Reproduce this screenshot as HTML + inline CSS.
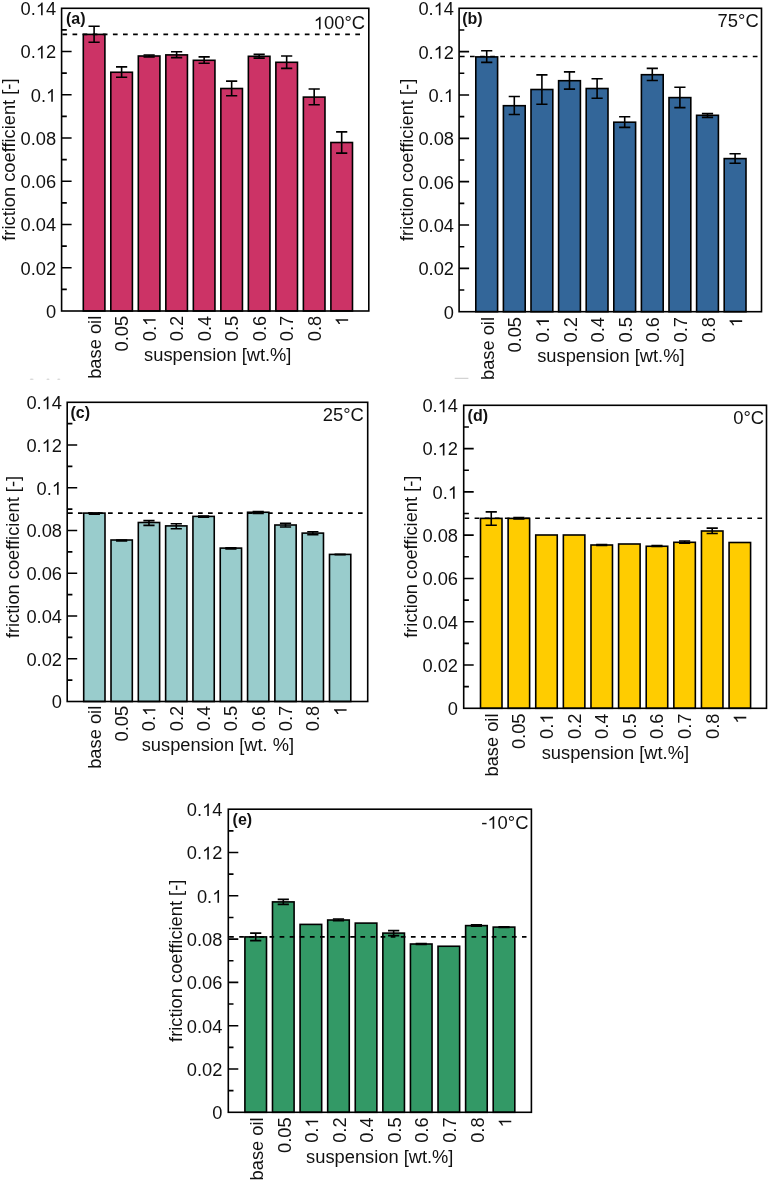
<!DOCTYPE html>
<html><head><meta charset="utf-8"><title>Friction coefficient</title>
<style>
html,body{margin:0;padding:0;background:#fff;}
body{width:768px;height:1181px;overflow:hidden;}
svg{display:block;will-change:transform;}
text{font-family:"Liberation Sans", sans-serif;fill:#111;}
</style></head>
<body>
<svg width="768" height="1181" viewBox="0 0 768 1181">

<rect x="83.3" y="34.4" width="21.6" height="276.6" fill="#CC3366" stroke="#000" stroke-width="1.6"/>
<rect x="110.81" y="72.25" width="21.6" height="238.75" fill="#CC3366" stroke="#000" stroke-width="1.6"/>
<rect x="138.32" y="56" width="21.6" height="255" fill="#CC3366" stroke="#000" stroke-width="1.6"/>
<rect x="165.83" y="54.9" width="21.6" height="256.1" fill="#CC3366" stroke="#000" stroke-width="1.6"/>
<rect x="193.34" y="60.3" width="21.6" height="250.7" fill="#CC3366" stroke="#000" stroke-width="1.6"/>
<rect x="220.85" y="88.5" width="21.6" height="222.5" fill="#CC3366" stroke="#000" stroke-width="1.6"/>
<rect x="248.36" y="56.3" width="21.6" height="254.7" fill="#CC3366" stroke="#000" stroke-width="1.6"/>
<rect x="275.87" y="62.3" width="21.6" height="248.7" fill="#CC3366" stroke="#000" stroke-width="1.6"/>
<rect x="303.38" y="97.1" width="21.6" height="213.9" fill="#CC3366" stroke="#000" stroke-width="1.6"/>
<rect x="330.89" y="142.5" width="21.6" height="168.5" fill="#CC3366" stroke="#000" stroke-width="1.6"/>
<path d="M94.1 26.3V42.2M88.5 26.3H99.7M88.5 42.2H99.7" stroke="#000" stroke-width="1.6" fill="none"/>
<path d="M121.61 66.9V77.25M116.01 66.9H127.21M116.01 77.25H127.21" stroke="#000" stroke-width="1.6" fill="none"/>
<path d="M149.12 55V57M143.52 55H154.72M143.52 57H154.72" stroke="#000" stroke-width="1.6" fill="none"/>
<path d="M176.63 51.7V57.6M171.03 51.7H182.23M171.03 57.6H182.23" stroke="#000" stroke-width="1.6" fill="none"/>
<path d="M204.14 56.9V63.2M198.54 56.9H209.74M198.54 63.2H209.74" stroke="#000" stroke-width="1.6" fill="none"/>
<path d="M231.65 81.1V95.7M226.05 81.1H237.25M226.05 95.7H237.25" stroke="#000" stroke-width="1.6" fill="none"/>
<path d="M259.16 54.4V58.1M253.56 54.4H264.76M253.56 58.1H264.76" stroke="#000" stroke-width="1.6" fill="none"/>
<path d="M286.67 56V68.4M281.07 56H292.27M281.07 68.4H292.27" stroke="#000" stroke-width="1.6" fill="none"/>
<path d="M314.18 89V104.75M308.58 89H319.78M308.58 104.75H319.78" stroke="#000" stroke-width="1.6" fill="none"/>
<path d="M341.69 131.9V153.1M336.09 131.9H347.29M336.09 153.1H347.29" stroke="#000" stroke-width="1.6" fill="none"/>
<path d="M62.4 34.35H360.3" stroke="#000" stroke-width="1.6" stroke-dasharray="4.7 5.4"/>
<rect x="61.6" y="8.3" width="307.2" height="302.7" fill="none" stroke="#000" stroke-width="1.6"/>
<path d="M61.6 289.38h5.2M61.6 267.76h10M61.6 246.14h5.2M61.6 224.51h10M61.6 202.89h5.2M61.6 181.27h10M61.6 159.65h5.2M61.6 138.03h10M61.6 116.41h5.2M61.6 94.79h10M61.6 73.16h5.2M61.6 51.54h10M61.6 29.92h5.2" stroke="#000" stroke-width="1.6"/>
<text x="56.2" y="317.9" text-anchor="end" font-size="18.3">0</text>
<text x="56.2" y="274.66" text-anchor="end" font-size="18.3">0.02</text>
<text x="56.2" y="231.41" text-anchor="end" font-size="18.3">0.04</text>
<text x="56.2" y="188.17" text-anchor="end" font-size="18.3">0.06</text>
<text x="56.2" y="144.93" text-anchor="end" font-size="18.3">0.08</text>
<text x="30.76" y="101.69" font-size="18.3" style="font-kerning:none">0. </text>
<path transform="translate(46.02 101.69) scale(0.00894 -0.00894)" d="M763 0H583V1100C540 1060 483 1020 413 981C342 941 279 911 223 891V1058C324 1103 412 1158 487 1223C562 1287 615 1349 646 1409H763Z" fill="#111"/>
<text x="20.58" y="58.44" font-size="18.3" style="font-kerning:none">0. 2</text>
<path transform="translate(35.84 58.44) scale(0.00894 -0.00894)" d="M763 0H583V1100C540 1060 483 1020 413 981C342 941 279 911 223 891V1058C324 1103 412 1158 487 1223C562 1287 615 1349 646 1409H763Z" fill="#111"/>
<text x="20.58" y="15.2" font-size="18.3" style="font-kerning:none">0. 4</text>
<path transform="translate(35.84 15.2) scale(0.00894 -0.00894)" d="M763 0H583V1100C540 1060 483 1020 413 981C342 941 279 911 223 891V1058C324 1103 412 1158 487 1223C562 1287 615 1349 646 1409H763Z" fill="#111"/>
<text transform="translate(100.55 315.8) rotate(-90)" x="0" y="0" text-anchor="end" font-size="18.3">base oil</text>
<text transform="translate(128.06 315.8) rotate(-90)" x="0" y="0" text-anchor="end" font-size="18.3">0.05</text>
<text transform="translate(155.57 315.8) rotate(-90)" x="-25.44" y="0" font-size="18.3" style="font-kerning:none">0. </text>
<path transform="translate(155.57 315.8) rotate(-90) translate(-10.18 0) scale(0.00894 -0.00894)" d="M763 0H583V1100C540 1060 483 1020 413 981C342 941 279 911 223 891V1058C324 1103 412 1158 487 1223C562 1287 615 1349 646 1409H763Z" fill="#111"/>
<text transform="translate(183.08 315.8) rotate(-90)" x="0" y="0" text-anchor="end" font-size="18.3">0.2</text>
<text transform="translate(210.59 315.8) rotate(-90)" x="0" y="0" text-anchor="end" font-size="18.3">0.4</text>
<text transform="translate(238.1 315.8) rotate(-90)" x="0" y="0" text-anchor="end" font-size="18.3">0.5</text>
<text transform="translate(265.61 315.8) rotate(-90)" x="0" y="0" text-anchor="end" font-size="18.3">0.6</text>
<text transform="translate(293.12 315.8) rotate(-90)" x="0" y="0" text-anchor="end" font-size="18.3">0.7</text>
<text transform="translate(320.63 315.8) rotate(-90)" x="0" y="0" text-anchor="end" font-size="18.3">0.8</text>
<text transform="translate(348.14 315.8) rotate(-90)" x="-10.18" y="0" font-size="18.3" style="font-kerning:none"> </text>
<path transform="translate(348.14 315.8) rotate(-90) translate(-10.18 0) scale(0.00894 -0.00894)" d="M763 0H583V1100C540 1060 483 1020 413 981C342 941 279 911 223 891V1058C324 1103 412 1158 487 1223C562 1287 615 1349 646 1409H763Z" fill="#111"/>
<text x="66" y="24.4" font-size="16" font-weight="bold">(a)</text>
<text x="313.75" y="29.3" font-size="18.4" style="font-kerning:none"> 00°C</text>
<path transform="translate(313.75 29.3) scale(0.00898 -0.00898)" d="M763 0H583V1100C540 1060 483 1020 413 981C342 941 279 911 223 891V1058C324 1103 412 1158 487 1223C562 1287 615 1349 646 1409H763Z" fill="#111"/>
<text transform="translate(14.7 159.6) rotate(-90)" text-anchor="middle" font-size="18.3">friction coefficient [-]</text>
<text x="144.1" y="361.3" font-size="18.3">suspension [wt.%]</text>
<rect x="475.8" y="56.9" width="21.8" height="254.8" fill="#336699" stroke="#000" stroke-width="1.6"/>
<rect x="503.4" y="105.7" width="21.8" height="206" fill="#336699" stroke="#000" stroke-width="1.6"/>
<rect x="531" y="89.5" width="21.8" height="222.2" fill="#336699" stroke="#000" stroke-width="1.6"/>
<rect x="558.6" y="80.7" width="21.8" height="231" fill="#336699" stroke="#000" stroke-width="1.6"/>
<rect x="586.2" y="88.5" width="21.8" height="223.2" fill="#336699" stroke="#000" stroke-width="1.6"/>
<rect x="613.8" y="122.2" width="21.8" height="189.5" fill="#336699" stroke="#000" stroke-width="1.6"/>
<rect x="641.4" y="74.7" width="21.8" height="237" fill="#336699" stroke="#000" stroke-width="1.6"/>
<rect x="669" y="97.6" width="21.8" height="214.1" fill="#336699" stroke="#000" stroke-width="1.6"/>
<rect x="696.6" y="115.3" width="21.8" height="196.4" fill="#336699" stroke="#000" stroke-width="1.6"/>
<rect x="724.2" y="158.6" width="21.8" height="153.1" fill="#336699" stroke="#000" stroke-width="1.6"/>
<path d="M486.7 50.7V62.4M481.1 50.7H492.3M481.1 62.4H492.3" stroke="#000" stroke-width="1.6" fill="none"/>
<path d="M514.3 96.55V114.5M508.7 96.55H519.9M508.7 114.5H519.9" stroke="#000" stroke-width="1.6" fill="none"/>
<path d="M541.9 74.9V104.2M536.3 74.9H547.5M536.3 104.2H547.5" stroke="#000" stroke-width="1.6" fill="none"/>
<path d="M569.5 71.9V89.1M563.9 71.9H575.1M563.9 89.1H575.1" stroke="#000" stroke-width="1.6" fill="none"/>
<path d="M597.1 78.8V98.3M591.5 78.8H602.7M591.5 98.3H602.7" stroke="#000" stroke-width="1.6" fill="none"/>
<path d="M624.7 116.8V127.4M619.1 116.8H630.3M619.1 127.4H630.3" stroke="#000" stroke-width="1.6" fill="none"/>
<path d="M652.3 68.4V80.5M646.7 68.4H657.9M646.7 80.5H657.9" stroke="#000" stroke-width="1.6" fill="none"/>
<path d="M679.9 87.2V107.6M674.3 87.2H685.5M674.3 107.6H685.5" stroke="#000" stroke-width="1.6" fill="none"/>
<path d="M707.5 113.6V117.4M701.9 113.6H713.1M701.9 117.4H713.1" stroke="#000" stroke-width="1.6" fill="none"/>
<path d="M735.1 153.8V163.2M729.5 153.8H740.7M729.5 163.2H740.7" stroke="#000" stroke-width="1.6" fill="none"/>
<path d="M459.9 56.5H757.8" stroke="#000" stroke-width="1.6" stroke-dasharray="4.7 5.4"/>
<rect x="459.1" y="8.3" width="302.4" height="303.4" fill="none" stroke="#000" stroke-width="1.6"/>
<path d="M459.1 290.03h5.2M459.1 268.36h10M459.1 246.69h5.2M459.1 225.01h10M459.1 203.34h5.2M459.1 181.67h10M459.1 160h5.2M459.1 138.33h10M459.1 116.66h5.2M459.1 94.99h10M459.1 73.31h5.2M459.1 51.64h10M459.1 29.97h5.2" stroke="#000" stroke-width="1.6"/>
<text x="454" y="318.6" text-anchor="end" font-size="18.3">0</text>
<text x="454" y="275.26" text-anchor="end" font-size="18.3">0.02</text>
<text x="454" y="231.91" text-anchor="end" font-size="18.3">0.04</text>
<text x="454" y="188.57" text-anchor="end" font-size="18.3">0.06</text>
<text x="454" y="145.23" text-anchor="end" font-size="18.3">0.08</text>
<text x="428.56" y="101.89" font-size="18.3" style="font-kerning:none">0. </text>
<path transform="translate(443.82 101.89) scale(0.00894 -0.00894)" d="M763 0H583V1100C540 1060 483 1020 413 981C342 941 279 911 223 891V1058C324 1103 412 1158 487 1223C562 1287 615 1349 646 1409H763Z" fill="#111"/>
<text x="418.38" y="58.54" font-size="18.3" style="font-kerning:none">0. 2</text>
<path transform="translate(433.64 58.54) scale(0.00894 -0.00894)" d="M763 0H583V1100C540 1060 483 1020 413 981C342 941 279 911 223 891V1058C324 1103 412 1158 487 1223C562 1287 615 1349 646 1409H763Z" fill="#111"/>
<text x="418.38" y="15.2" font-size="18.3" style="font-kerning:none">0. 4</text>
<path transform="translate(433.64 15.2) scale(0.00894 -0.00894)" d="M763 0H583V1100C540 1060 483 1020 413 981C342 941 279 911 223 891V1058C324 1103 412 1158 487 1223C562 1287 615 1349 646 1409H763Z" fill="#111"/>
<text transform="translate(493.75 317) rotate(-90)" x="0" y="0" text-anchor="end" font-size="18.3">base oil</text>
<text transform="translate(521.35 317) rotate(-90)" x="0" y="0" text-anchor="end" font-size="18.3">0.05</text>
<text transform="translate(548.95 317) rotate(-90)" x="-25.44" y="0" font-size="18.3" style="font-kerning:none">0. </text>
<path transform="translate(548.95 317) rotate(-90) translate(-10.18 0) scale(0.00894 -0.00894)" d="M763 0H583V1100C540 1060 483 1020 413 981C342 941 279 911 223 891V1058C324 1103 412 1158 487 1223C562 1287 615 1349 646 1409H763Z" fill="#111"/>
<text transform="translate(576.55 317) rotate(-90)" x="0" y="0" text-anchor="end" font-size="18.3">0.2</text>
<text transform="translate(604.15 317) rotate(-90)" x="0" y="0" text-anchor="end" font-size="18.3">0.4</text>
<text transform="translate(631.75 317) rotate(-90)" x="0" y="0" text-anchor="end" font-size="18.3">0.5</text>
<text transform="translate(659.35 317) rotate(-90)" x="0" y="0" text-anchor="end" font-size="18.3">0.6</text>
<text transform="translate(686.95 317) rotate(-90)" x="0" y="0" text-anchor="end" font-size="18.3">0.7</text>
<text transform="translate(714.55 317) rotate(-90)" x="0" y="0" text-anchor="end" font-size="18.3">0.8</text>
<text transform="translate(742.15 317) rotate(-90)" x="-10.18" y="0" font-size="18.3" style="font-kerning:none"> </text>
<path transform="translate(742.15 317) rotate(-90) translate(-10.18 0) scale(0.00894 -0.00894)" d="M763 0H583V1100C540 1060 483 1020 413 981C342 941 279 911 223 891V1058C324 1103 412 1158 487 1223C562 1287 615 1349 646 1409H763Z" fill="#111"/>
<text x="462.2" y="24" font-size="16" font-weight="bold">(b)</text>
<text x="758.7" y="26.7" text-anchor="end" font-size="18.4">75°C</text>
<text transform="translate(412.6 159.9) rotate(-90)" text-anchor="middle" font-size="18.3">friction coefficient [-]</text>
<text x="537.2" y="361.8" font-size="18.3">suspension [wt.%]</text>
<rect x="83.7" y="513.1" width="21.3" height="188.4" fill="#99CCCC" stroke="#000" stroke-width="1.6"/>
<rect x="111.01" y="540" width="21.3" height="161.5" fill="#99CCCC" stroke="#000" stroke-width="1.6"/>
<rect x="138.32" y="522.5" width="21.3" height="179" fill="#99CCCC" stroke="#000" stroke-width="1.6"/>
<rect x="165.63" y="525.9" width="21.3" height="175.6" fill="#99CCCC" stroke="#000" stroke-width="1.6"/>
<rect x="192.94" y="516.4" width="21.3" height="185.1" fill="#99CCCC" stroke="#000" stroke-width="1.6"/>
<rect x="220.25" y="548.1" width="21.3" height="153.4" fill="#99CCCC" stroke="#000" stroke-width="1.6"/>
<rect x="247.56" y="512.25" width="21.3" height="189.25" fill="#99CCCC" stroke="#000" stroke-width="1.6"/>
<rect x="274.87" y="525" width="21.3" height="176.5" fill="#99CCCC" stroke="#000" stroke-width="1.6"/>
<rect x="302.18" y="533.1" width="21.3" height="168.4" fill="#99CCCC" stroke="#000" stroke-width="1.6"/>
<rect x="329.49" y="554.4" width="21.3" height="147.1" fill="#99CCCC" stroke="#000" stroke-width="1.6"/>
<path d="M94.35 513V514.2M88.75 513H99.95M88.75 514.2H99.95" stroke="#000" stroke-width="1.6" fill="none"/>
<path d="M121.66 540V541M116.06 540H127.26M116.06 541H127.26" stroke="#000" stroke-width="1.6" fill="none"/>
<path d="M148.97 520.6V525.4M143.37 520.6H154.57M143.37 525.4H154.57" stroke="#000" stroke-width="1.6" fill="none"/>
<path d="M176.28 523.75V528.75M170.68 523.75H181.88M170.68 528.75H181.88" stroke="#000" stroke-width="1.6" fill="none"/>
<path d="M203.59 516V517.2M197.99 516H209.19M197.99 517.2H209.19" stroke="#000" stroke-width="1.6" fill="none"/>
<path d="M230.9 547.9V548.9M225.3 547.9H236.5M225.3 548.9H236.5" stroke="#000" stroke-width="1.6" fill="none"/>
<path d="M258.21 511.5V513.4M252.61 511.5H263.81M252.61 513.4H263.81" stroke="#000" stroke-width="1.6" fill="none"/>
<path d="M285.52 523.3V527M279.92 523.3H291.12M279.92 527H291.12" stroke="#000" stroke-width="1.6" fill="none"/>
<path d="M312.83 531.8V534.8M307.23 531.8H318.43M307.23 534.8H318.43" stroke="#000" stroke-width="1.6" fill="none"/>
<path d="M340.14 554.2V554.6M334.54 554.2H345.74M334.54 554.6H345.74" stroke="#000" stroke-width="1.6" fill="none"/>
<path d="M68 513.1H362.6" stroke="#000" stroke-width="1.6" stroke-dasharray="4.7 5.3"/>
<rect x="67.2" y="402.3" width="300.5" height="299.2" fill="none" stroke="#000" stroke-width="1.6"/>
<path d="M67.2 680.13h5.2M67.2 658.76h10M67.2 637.39h5.2M67.2 616.01h10M67.2 594.64h5.2M67.2 573.27h10M67.2 551.9h5.2M67.2 530.53h10M67.2 509.16h5.2M67.2 487.79h10M67.2 466.41h5.2M67.2 445.04h10M67.2 423.67h5.2" stroke="#000" stroke-width="1.6"/>
<text x="62" y="708.4" text-anchor="end" font-size="18.3">0</text>
<text x="62" y="665.66" text-anchor="end" font-size="18.3">0.02</text>
<text x="62" y="622.91" text-anchor="end" font-size="18.3">0.04</text>
<text x="62" y="580.17" text-anchor="end" font-size="18.3">0.06</text>
<text x="62" y="537.43" text-anchor="end" font-size="18.3">0.08</text>
<text x="36.56" y="494.69" font-size="18.3" style="font-kerning:none">0. </text>
<path transform="translate(51.82 494.69) scale(0.00894 -0.00894)" d="M763 0H583V1100C540 1060 483 1020 413 981C342 941 279 911 223 891V1058C324 1103 412 1158 487 1223C562 1287 615 1349 646 1409H763Z" fill="#111"/>
<text x="26.38" y="451.94" font-size="18.3" style="font-kerning:none">0. 2</text>
<path transform="translate(41.64 451.94) scale(0.00894 -0.00894)" d="M763 0H583V1100C540 1060 483 1020 413 981C342 941 279 911 223 891V1058C324 1103 412 1158 487 1223C562 1287 615 1349 646 1409H763Z" fill="#111"/>
<text x="26.38" y="409.2" font-size="18.3" style="font-kerning:none">0. 4</text>
<path transform="translate(41.64 409.2) scale(0.00894 -0.00894)" d="M763 0H583V1100C540 1060 483 1020 413 981C342 941 279 911 223 891V1058C324 1103 412 1158 487 1223C562 1287 615 1349 646 1409H763Z" fill="#111"/>
<text transform="translate(100.8 705.8) rotate(-90)" x="0" y="0" text-anchor="end" font-size="18.3">base oil</text>
<text transform="translate(128.11 705.8) rotate(-90)" x="0" y="0" text-anchor="end" font-size="18.3">0.05</text>
<text transform="translate(155.42 705.8) rotate(-90)" x="-25.44" y="0" font-size="18.3" style="font-kerning:none">0. </text>
<path transform="translate(155.42 705.8) rotate(-90) translate(-10.18 0) scale(0.00894 -0.00894)" d="M763 0H583V1100C540 1060 483 1020 413 981C342 941 279 911 223 891V1058C324 1103 412 1158 487 1223C562 1287 615 1349 646 1409H763Z" fill="#111"/>
<text transform="translate(182.73 705.8) rotate(-90)" x="0" y="0" text-anchor="end" font-size="18.3">0.2</text>
<text transform="translate(210.04 705.8) rotate(-90)" x="0" y="0" text-anchor="end" font-size="18.3">0.4</text>
<text transform="translate(237.35 705.8) rotate(-90)" x="0" y="0" text-anchor="end" font-size="18.3">0.5</text>
<text transform="translate(264.66 705.8) rotate(-90)" x="0" y="0" text-anchor="end" font-size="18.3">0.6</text>
<text transform="translate(291.97 705.8) rotate(-90)" x="0" y="0" text-anchor="end" font-size="18.3">0.7</text>
<text transform="translate(319.28 705.8) rotate(-90)" x="0" y="0" text-anchor="end" font-size="18.3">0.8</text>
<text transform="translate(346.59 705.8) rotate(-90)" x="-10.18" y="0" font-size="18.3" style="font-kerning:none"> </text>
<path transform="translate(346.59 705.8) rotate(-90) translate(-10.18 0) scale(0.00894 -0.00894)" d="M763 0H583V1100C540 1060 483 1020 413 981C342 941 279 911 223 891V1058C324 1103 412 1158 487 1223C562 1287 615 1349 646 1409H763Z" fill="#111"/>
<text x="70.5" y="417.6" font-size="16" font-weight="bold">(c)</text>
<text x="363.8" y="421.25" text-anchor="end" font-size="18.4">25°C</text>
<text transform="translate(19.4 557) rotate(-90)" text-anchor="middle" font-size="18.3">friction coefficient [-]</text>
<text x="141.7" y="751" font-size="18.3">suspension [wt. %]</text>
<rect x="480.5" y="518.4" width="21.5" height="189.9" fill="#FFCC00" stroke="#000" stroke-width="1.6"/>
<rect x="508.12" y="518.4" width="21.5" height="189.9" fill="#FFCC00" stroke="#000" stroke-width="1.6"/>
<rect x="535.74" y="535" width="21.5" height="173.3" fill="#FFCC00" stroke="#000" stroke-width="1.6"/>
<rect x="563.36" y="535" width="21.5" height="173.3" fill="#FFCC00" stroke="#000" stroke-width="1.6"/>
<rect x="590.98" y="545" width="21.5" height="163.3" fill="#FFCC00" stroke="#000" stroke-width="1.6"/>
<rect x="618.6" y="544" width="21.5" height="164.3" fill="#FFCC00" stroke="#000" stroke-width="1.6"/>
<rect x="646.22" y="546.25" width="21.5" height="162.05" fill="#FFCC00" stroke="#000" stroke-width="1.6"/>
<rect x="673.84" y="542.3" width="21.5" height="166" fill="#FFCC00" stroke="#000" stroke-width="1.6"/>
<rect x="701.46" y="531" width="21.5" height="177.3" fill="#FFCC00" stroke="#000" stroke-width="1.6"/>
<rect x="729.08" y="542.5" width="21.5" height="165.8" fill="#FFCC00" stroke="#000" stroke-width="1.6"/>
<path d="M491.25 511.9V525.25M485.65 511.9H496.85M485.65 525.25H496.85" stroke="#000" stroke-width="1.6" fill="none"/>
<path d="M518.87 517.6V519M513.27 517.6H524.47M513.27 519H524.47" stroke="#000" stroke-width="1.6" fill="none"/>
<path d="M601.73 544.6V545.4M596.13 544.6H607.33M596.13 545.4H607.33" stroke="#000" stroke-width="1.6" fill="none"/>
<path d="M656.97 545.6V546.4M651.37 545.6H662.57M651.37 546.4H662.57" stroke="#000" stroke-width="1.6" fill="none"/>
<path d="M684.59 541V543.3M678.99 541H690.19M678.99 543.3H690.19" stroke="#000" stroke-width="1.6" fill="none"/>
<path d="M712.21 528.1V533.5M706.61 528.1H717.81M706.61 533.5H717.81" stroke="#000" stroke-width="1.6" fill="none"/>
<path d="M464.5 518.3H762.5" stroke="#000" stroke-width="1.6" stroke-dasharray="4.7 5.4"/>
<rect x="463.7" y="405.3" width="302.8" height="303" fill="none" stroke="#000" stroke-width="1.6"/>
<path d="M463.7 686.66h5.2M463.7 665.01h10M463.7 643.37h5.2M463.7 621.73h10M463.7 600.09h5.2M463.7 578.44h10M463.7 556.8h5.2M463.7 535.16h10M463.7 513.51h5.2M463.7 491.87h10M463.7 470.23h5.2M463.7 448.59h10M463.7 426.94h5.2" stroke="#000" stroke-width="1.6"/>
<text x="458" y="715.2" text-anchor="end" font-size="18.3">0</text>
<text x="458" y="671.91" text-anchor="end" font-size="18.3">0.02</text>
<text x="458" y="628.63" text-anchor="end" font-size="18.3">0.04</text>
<text x="458" y="585.34" text-anchor="end" font-size="18.3">0.06</text>
<text x="458" y="542.06" text-anchor="end" font-size="18.3">0.08</text>
<text x="432.56" y="498.77" font-size="18.3" style="font-kerning:none">0. </text>
<path transform="translate(447.82 498.77) scale(0.00894 -0.00894)" d="M763 0H583V1100C540 1060 483 1020 413 981C342 941 279 911 223 891V1058C324 1103 412 1158 487 1223C562 1287 615 1349 646 1409H763Z" fill="#111"/>
<text x="422.38" y="455.49" font-size="18.3" style="font-kerning:none">0. 2</text>
<path transform="translate(437.64 455.49) scale(0.00894 -0.00894)" d="M763 0H583V1100C540 1060 483 1020 413 981C342 941 279 911 223 891V1058C324 1103 412 1158 487 1223C562 1287 615 1349 646 1409H763Z" fill="#111"/>
<text x="422.38" y="412.2" font-size="18.3" style="font-kerning:none">0. 4</text>
<path transform="translate(437.64 412.2) scale(0.00894 -0.00894)" d="M763 0H583V1100C540 1060 483 1020 413 981C342 941 279 911 223 891V1058C324 1103 412 1158 487 1223C562 1287 615 1349 646 1409H763Z" fill="#111"/>
<text transform="translate(497.7 713.5) rotate(-90)" x="0" y="0" text-anchor="end" font-size="18.3">base oil</text>
<text transform="translate(525.32 713.5) rotate(-90)" x="0" y="0" text-anchor="end" font-size="18.3">0.05</text>
<text transform="translate(552.94 713.5) rotate(-90)" x="-25.44" y="0" font-size="18.3" style="font-kerning:none">0. </text>
<path transform="translate(552.94 713.5) rotate(-90) translate(-10.18 0) scale(0.00894 -0.00894)" d="M763 0H583V1100C540 1060 483 1020 413 981C342 941 279 911 223 891V1058C324 1103 412 1158 487 1223C562 1287 615 1349 646 1409H763Z" fill="#111"/>
<text transform="translate(580.56 713.5) rotate(-90)" x="0" y="0" text-anchor="end" font-size="18.3">0.2</text>
<text transform="translate(608.18 713.5) rotate(-90)" x="0" y="0" text-anchor="end" font-size="18.3">0.4</text>
<text transform="translate(635.8 713.5) rotate(-90)" x="0" y="0" text-anchor="end" font-size="18.3">0.5</text>
<text transform="translate(663.42 713.5) rotate(-90)" x="0" y="0" text-anchor="end" font-size="18.3">0.6</text>
<text transform="translate(691.04 713.5) rotate(-90)" x="0" y="0" text-anchor="end" font-size="18.3">0.7</text>
<text transform="translate(718.66 713.5) rotate(-90)" x="0" y="0" text-anchor="end" font-size="18.3">0.8</text>
<text transform="translate(746.28 713.5) rotate(-90)" x="-10.18" y="0" font-size="18.3" style="font-kerning:none"> </text>
<path transform="translate(746.28 713.5) rotate(-90) translate(-10.18 0) scale(0.00894 -0.00894)" d="M763 0H583V1100C540 1060 483 1020 413 981C342 941 279 911 223 891V1058C324 1103 412 1158 487 1223C562 1287 615 1349 646 1409H763Z" fill="#111"/>
<text x="467.6" y="420.8" font-size="16" font-weight="bold">(d)</text>
<text x="764.1" y="423.5" text-anchor="end" font-size="18.4">0°C</text>
<text transform="translate(417 556.7) rotate(-90)" text-anchor="middle" font-size="18.3">friction coefficient [-]</text>
<text x="541.7" y="759.2" font-size="18.3">suspension [wt.%]</text>
<rect x="244.9" y="936.9" width="21.6" height="175.4" fill="#339966" stroke="#000" stroke-width="1.6"/>
<rect x="272.49" y="901.9" width="21.6" height="210.4" fill="#339966" stroke="#000" stroke-width="1.6"/>
<rect x="300.08" y="924.4" width="21.6" height="187.9" fill="#339966" stroke="#000" stroke-width="1.6"/>
<rect x="327.67" y="920" width="21.6" height="192.3" fill="#339966" stroke="#000" stroke-width="1.6"/>
<rect x="355.26" y="923.1" width="21.6" height="189.2" fill="#339966" stroke="#000" stroke-width="1.6"/>
<rect x="382.85" y="933.1" width="21.6" height="179.2" fill="#339966" stroke="#000" stroke-width="1.6"/>
<rect x="410.44" y="944" width="21.6" height="168.3" fill="#339966" stroke="#000" stroke-width="1.6"/>
<rect x="438.03" y="946.25" width="21.6" height="166.05" fill="#339966" stroke="#000" stroke-width="1.6"/>
<rect x="465.62" y="925.6" width="21.6" height="186.7" fill="#339966" stroke="#000" stroke-width="1.6"/>
<rect x="493.21" y="927.1" width="21.6" height="185.2" fill="#339966" stroke="#000" stroke-width="1.6"/>
<path d="M255.7 933.1V940.6M250.1 933.1H261.3M250.1 940.6H261.3" stroke="#000" stroke-width="1.6" fill="none"/>
<path d="M283.29 899.4V904.4M277.69 899.4H288.89M277.69 904.4H288.89" stroke="#000" stroke-width="1.6" fill="none"/>
<path d="M338.47 919V920.8M332.87 919H344.07M332.87 920.8H344.07" stroke="#000" stroke-width="1.6" fill="none"/>
<path d="M393.65 930.6V935.6M388.05 930.6H399.25M388.05 935.6H399.25" stroke="#000" stroke-width="1.6" fill="none"/>
<path d="M421.24 943.6V944.4M415.64 943.6H426.84M415.64 944.4H426.84" stroke="#000" stroke-width="1.6" fill="none"/>
<path d="M476.42 924.9V926.2M470.82 924.9H482.02M470.82 926.2H482.02" stroke="#000" stroke-width="1.6" fill="none"/>
<path d="M504.01 926.8V927.4M498.41 926.8H509.61M498.41 927.4H509.61" stroke="#000" stroke-width="1.6" fill="none"/>
<path d="M229.1 936.85H526.5" stroke="#000" stroke-width="1.6" stroke-dasharray="4.7 5.4"/>
<rect x="228.3" y="809.2" width="303.1" height="303.1" fill="none" stroke="#000" stroke-width="1.6"/>
<path d="M228.3 1090.65h5.2M228.3 1069h10M228.3 1047.35h5.2M228.3 1025.7h10M228.3 1004.05h5.2M228.3 982.4h10M228.3 960.75h5.2M228.3 939.1h10M228.3 917.45h5.2M228.3 895.8h10M228.3 874.15h5.2M228.3 852.5h10M228.3 830.85h5.2" stroke="#000" stroke-width="1.6"/>
<text x="222.4" y="1119.2" text-anchor="end" font-size="18.3">0</text>
<text x="222.4" y="1075.9" text-anchor="end" font-size="18.3">0.02</text>
<text x="222.4" y="1032.6" text-anchor="end" font-size="18.3">0.04</text>
<text x="222.4" y="989.3" text-anchor="end" font-size="18.3">0.06</text>
<text x="222.4" y="946" text-anchor="end" font-size="18.3">0.08</text>
<text x="196.96" y="902.7" font-size="18.3" style="font-kerning:none">0. </text>
<path transform="translate(212.22 902.7) scale(0.00894 -0.00894)" d="M763 0H583V1100C540 1060 483 1020 413 981C342 941 279 911 223 891V1058C324 1103 412 1158 487 1223C562 1287 615 1349 646 1409H763Z" fill="#111"/>
<text x="186.78" y="859.4" font-size="18.3" style="font-kerning:none">0. 2</text>
<path transform="translate(202.04 859.4) scale(0.00894 -0.00894)" d="M763 0H583V1100C540 1060 483 1020 413 981C342 941 279 911 223 891V1058C324 1103 412 1158 487 1223C562 1287 615 1349 646 1409H763Z" fill="#111"/>
<text x="186.78" y="816.1" font-size="18.3" style="font-kerning:none">0. 4</text>
<path transform="translate(202.04 816.1) scale(0.00894 -0.00894)" d="M763 0H583V1100C540 1060 483 1020 413 981C342 941 279 911 223 891V1058C324 1103 412 1158 487 1223C562 1287 615 1349 646 1409H763Z" fill="#111"/>
<text transform="translate(262.95 1117.4) rotate(-90)" x="0" y="0" text-anchor="end" font-size="18.3">base oil</text>
<text transform="translate(290.54 1117.4) rotate(-90)" x="0" y="0" text-anchor="end" font-size="18.3">0.05</text>
<text transform="translate(318.13 1117.4) rotate(-90)" x="-25.44" y="0" font-size="18.3" style="font-kerning:none">0. </text>
<path transform="translate(318.13 1117.4) rotate(-90) translate(-10.18 0) scale(0.00894 -0.00894)" d="M763 0H583V1100C540 1060 483 1020 413 981C342 941 279 911 223 891V1058C324 1103 412 1158 487 1223C562 1287 615 1349 646 1409H763Z" fill="#111"/>
<text transform="translate(345.72 1117.4) rotate(-90)" x="0" y="0" text-anchor="end" font-size="18.3">0.2</text>
<text transform="translate(373.31 1117.4) rotate(-90)" x="0" y="0" text-anchor="end" font-size="18.3">0.4</text>
<text transform="translate(400.9 1117.4) rotate(-90)" x="0" y="0" text-anchor="end" font-size="18.3">0.5</text>
<text transform="translate(428.49 1117.4) rotate(-90)" x="0" y="0" text-anchor="end" font-size="18.3">0.6</text>
<text transform="translate(456.08 1117.4) rotate(-90)" x="0" y="0" text-anchor="end" font-size="18.3">0.7</text>
<text transform="translate(483.67 1117.4) rotate(-90)" x="0" y="0" text-anchor="end" font-size="18.3">0.8</text>
<text transform="translate(511.26 1117.4) rotate(-90)" x="-10.18" y="0" font-size="18.3" style="font-kerning:none"> </text>
<path transform="translate(511.26 1117.4) rotate(-90) translate(-10.18 0) scale(0.00894 -0.00894)" d="M763 0H583V1100C540 1060 483 1020 413 981C342 941 279 911 223 891V1058C324 1103 412 1158 487 1223C562 1287 615 1349 646 1409H763Z" fill="#111"/>
<text x="232.6" y="825.1" font-size="16" font-weight="bold">(e)</text>
<text x="481.26" y="828.8" font-size="18.4" style="font-kerning:none">- 0°C</text>
<path transform="translate(487.39 828.8) scale(0.00898 -0.00898)" d="M763 0H583V1100C540 1060 483 1020 413 981C342 941 279 911 223 891V1058C324 1103 412 1158 487 1223C562 1287 615 1349 646 1409H763Z" fill="#111"/>
<text transform="translate(181.7 960.8) rotate(-90)" text-anchor="middle" font-size="18.3">friction coefficient [-]</text>
<text x="306.1" y="1163.1" font-size="18.3">suspension [wt.%]</text>
<path d="M454.7 378.3H468.4" stroke="#c8c8c8" stroke-width="1"/>
<g fill="#d8d8d8"><ellipse cx="31.7" cy="379.2" rx="2" ry="0.7"/><ellipse cx="48" cy="379.2" rx="1.6" ry="0.7"/><ellipse cx="58.8" cy="379.2" rx="1.6" ry="0.7"/></g>
</svg>
</body></html>
